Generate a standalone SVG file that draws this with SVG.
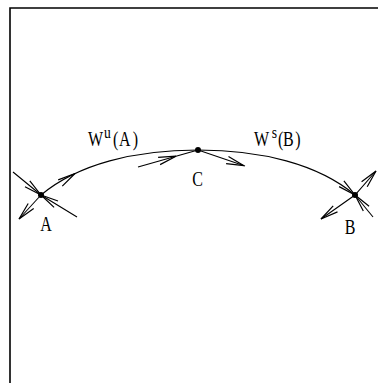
<svg xmlns="http://www.w3.org/2000/svg" width="378" height="383" viewBox="0 0 378 383">
<style>
.ln{fill:none;stroke:#000;stroke-width:1.1;stroke-linejoin:miter;stroke-linecap:butt}
.ah{fill:none;stroke:#000;stroke-width:1.2}
.fr{fill:none;stroke:#000;stroke-width:1.6}
.pt{fill:#000}
</style>
<rect width="378" height="383" fill="#fff"/>
<path class="fr" d="M10,383 V8 H378"/>
<g id="connectors">
  <path id="wu" class="ln" d="M41,195 C78,164 135,150 198,150"/>
  <path class="ah" d="M58.2,179.9 L75,173.5 L62.3,186.2"/>
  <path id="ws" class="ln" d="M198,150 C261,150 318,164 355,195"/>
  <path class="ah" d="M339.1,186.6 L355,195 L343.9,180.8"/>
  <path class="ln" d="M138,167 L198,150"/>
  <path class="ah" d="M158.1,157.4 L176,156.2 L160.1,164.6"/>
  <path class="ln" d="M198,150 L245,166"/>
  <path class="ah" d="M228.5,156.5 L244,165.7 L226.1,163.6"/>
  <path class="ln" d="M13,172 L41,195 L77,217"/>
  <path class="ah" d="M29.8,180.9 L41,195 L25,186.7"/>
  <path class="ah" d="M54.1,207.4 L41,195 L58,201"/>
  <path class="ln" d="M41,195 L19,219"/>
  <path class="ah" d="M33.7,208.6 L19,219 L28.2,203.5"/>
  <path class="ln" d="M355,195 L373,217"/>
  <path class="ah" d="M363.3,211 L355,195 L369.1,206.3"/>
  <path class="ln" d="M321,219 L355,195 L376,171"/>
  <path class="ah" d="M361.6,181.8 L376,171 L367.2,186.7"/>
  <path class="ah" d="M337.5,211.9 L321,219 L333.2,205.8"/>
</g>
<g font-family="'Liberation Serif', 'Times New Roman', serif" font-size="20" fill="#000">
<g id="node-A">
  <circle class="pt" cx="41" cy="195" r="3"/>
  <text transform="scale(0.8 1)" x="57.5" y="231" text-anchor="middle">A</text>
</g>
<g id="node-C">
  <circle class="pt" cx="198" cy="150" r="3"/>
  <text transform="scale(0.8 1)" x="247.1" y="186" text-anchor="middle">C</text>
</g>
<g id="node-B">
  <circle class="pt" cx="355" cy="195" r="3"/>
  <text transform="scale(0.8 1)" x="437.5" y="234" text-anchor="middle">B</text>
</g>
<g id="label-wu">
  <text transform="scale(0.8 1)" y="146"><tspan x="110">W</tspan><tspan font-size="17" x="130" y="138.5">u</tspan><tspan x="141.25" y="146">(</tspan><tspan x="148.75">A</tspan><tspan x="166">)</tspan></text>
</g>
<g id="label-ws">
  <text transform="scale(0.8 1)" y="146"><tspan x="317.5">W</tspan><tspan font-size="17" x="339.6" y="138.5">s</tspan><tspan x="347.5" y="146">(</tspan><tspan x="353.75">B</tspan><tspan x="369">)</tspan></text>
</g>
</g>
</svg>
